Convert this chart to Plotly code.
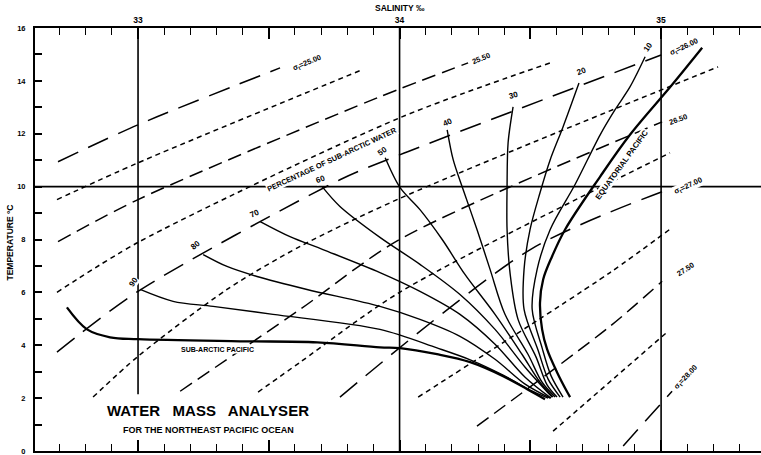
import plotly.graph_objects as go

FONT = "Liberation Sans"

# ---------------- axes ----------------
SAL_RANGE = [32.606, 35.382]
TEMP_RANGE = [0, 16]
sal_tickvals = [33.0, 33.5, 34.0, 34.5, 35.0]
sal_ticktext = ["33", "", "34", "", "35"]
temp_tickvals = [0, 2, 4, 6, 8, 10, 12, 14, 16]
temp_ticktext = ["0", "2", "4", "6", "8", "10", "12", "14", "16"]

# reference grid lines (salinity verticals and 10 degC horizontal)
grid_sal = [33.0, 34.0, 35.0]
grid_sal_tmin = [2.15, 0.0, 0.0]
grid_sal_tmax = [16.0, 16.0, 16.0]
grid_temp = 10.0

# ---------------- sigma-t isopycnals ----------------
sigma_levels = ["25.00", "25.25", "25.50", "25.75", "26.00", "26.25", "26.50",
                "26.75", "27.00", "27.25", "27.50", "27.75", "28.00"]
sigma_S = [
    [32.694, 33.000, 33.543],
    [32.690, 33.000, 33.857],
    [32.694, 33.000, 33.925, 34.262],
    [32.690, 33.000, 34.000, 34.576],
    [32.690, 33.000, 33.772, 34.000, 35.000],
    [32.828, 33.000, 33.340, 33.620, 34.000, 35.218],
    [33.161, 33.620, 34.000, 35.004],
    [33.459, 33.620, 34.000, 35.034],
    [33.772, 34.500, 35.004],
    [34.071, 34.805, 35.042],
    [34.296, 34.805, 35.004],
    [34.587, 35.027],
    [34.855, 35.042],
]
sigma_T = [
    [10.94, 12.34, 14.49],
    [9.51, 10.90, 14.42],
    [7.92, 9.51, 13.40, 14.68],
    [6.00, 7.89, 12.60, 14.68],
    [3.74, 6.04, 10.26, 11.20, 14.98],
    [2.04, 3.58, 6.11, 7.74, 9.55, 14.53],
    [2.26, 5.36, 8.00, 12.45],
    [2.23, 3.36, 6.00, 11.28],
    [2.04, 7.62, 9.81],
    [2.04, 6.75, 8.45],
    [0.94, 4.72, 6.42],
    [0.75, 4.53],
    [0.19, 2.26],
]
# labelled isopycnals: text, S, T, angle
sigma_label_text = ["σ<sub>t</sub>=25.00", "25.50", "σ<sub>t</sub>=26.00", "26.50",
                    "σ<sub>t</sub>=27.00", "27.50", "σ<sub>t</sub>=28.00"]
sigma_label_S = [33.646, 34.312, 35.088, 35.065, 35.103, 35.092, 35.096]
sigma_label_T = [14.68, 14.83, 15.28, 12.53, 10.04, 6.87, 2.79]
sigma_label_angle = [-22, -22, -25, -20, -25, -33, -47]

# ---------------- source water types ----------------
subarctic_S = [32.728, 32.805, 32.893, 33.000, 33.390, 33.685, 33.925, 34.002,
               34.143, 34.270, 34.396, 34.488, 34.556]
subarctic_T = [5.43, 4.60, 4.30, 4.23, 4.15, 4.11, 3.92, 3.89,
               3.66, 3.36, 2.83, 2.34, 1.96]
equatorial_S = [35.157, 35.042, 34.881, 34.767, 34.633, 34.583, 34.549, 34.537,
                34.545, 34.564, 34.602, 34.641, 34.652]
equatorial_T = [15.25, 13.85, 11.96, 10.38, 8.38, 7.36, 6.49, 5.62,
                4.60, 3.85, 2.98, 2.23, 2.04]

# ---------------- percentage of sub-arctic water curves ----------------
pct_labels = ["90", "80", "70", "60", "50", "40", "30", "20", "10"]
pct_S = [
    [33.008, 33.134, 33.287, 33.516, 33.925, 34.143, 34.270, 34.396, 34.499, 34.568],
    [33.249, 33.340, 33.455, 33.646, 33.925, 34.078, 34.231, 34.365, 34.480, 34.576],
    [33.467, 33.581, 33.707, 33.925, 34.078, 34.231, 34.365, 34.480, 34.579],
    [33.704, 33.772, 33.925, 34.078, 34.231, 34.365, 34.480, 34.583],
    [33.945, 34.002, 34.078, 34.163, 34.250, 34.365, 34.468, 34.537, 34.587],
    [34.182, 34.205, 34.243, 34.296, 34.346, 34.403, 34.491, 34.545, 34.595],
    [34.434, 34.415, 34.411, 34.411, 34.423, 34.453, 34.522, 34.564, 34.602],
    [34.686, 34.625, 34.576, 34.537, 34.499, 34.476, 34.476, 34.530, 34.568, 34.614],
    [34.939, 34.881, 34.824, 34.767, 34.671, 34.576, 34.526, 34.507, 34.545, 34.579, 34.625],
]
pct_T = [
    [6.11, 5.66, 5.47, 5.17, 4.60, 3.90, 3.45, 2.87, 2.30, 2.00],
    [7.43, 6.98, 6.60, 6.11, 5.47, 4.98, 4.34, 3.47, 2.53, 2.00],
    [8.68, 8.11, 7.62, 6.75, 6.04, 5.17, 4.04, 2.79, 2.00],
    [10.00, 9.25, 8.08, 7.06, 5.92, 4.60, 3.17, 2.04],
    [11.09, 9.96, 9.13, 8.00, 6.68, 5.17, 3.66, 2.60, 2.04],
    [12.15, 11.02, 9.89, 8.38, 6.87, 5.17, 3.66, 2.60, 2.04],
    [13.02, 11.66, 10.00, 8.38, 6.68, 4.98, 3.55, 2.50, 2.04],
    [13.92, 12.26, 11.02, 9.77, 8.38, 6.87, 5.36, 3.80, 2.72, 2.04],
    [14.91, 13.77, 12.91, 11.96, 10.08, 8.38, 6.87, 5.36, 3.90, 2.85, 2.04],
]
pct_label_S = [32.981, 33.218, 33.447, 33.696, 33.933, 34.182, 34.434, 34.694, 34.950]
pct_label_T = [6.38, 7.77, 8.98, 10.26, 11.32, 12.42, 13.43, 14.34, 15.25]
pct_label_angle = [-55, -40, -25, -20, -35, -25, -15, -20, -55]

# ---------------- text ----------------
title_x = "SALINITY ‰"
title_y = "TEMPERATURE °C"
main_title = "WATER\u00a0\u00a0 MASS\u00a0\u00a0 ANALYSER"
sub_title = "FOR THE NORTHEAST PACIFIC OCEAN"

LONG = "22px,11px"
MED = "14px,7px"
SHORT = "5px,4px"

fig = go.Figure()

# grid lines
for s, t0, t1 in zip(grid_sal, grid_sal_tmin, grid_sal_tmax):
    fig.add_trace(go.Scatter(x=[s, s], y=[t0, t1], mode="lines",
                             line=dict(color="black", width=1.6), hoverinfo="skip"))
fig.add_trace(go.Scatter(x=SAL_RANGE, y=[grid_temp, grid_temp], mode="lines",
                         line=dict(color="black", width=1.6), hoverinfo="skip"))

# isopycnals
for lev, S, T in zip(sigma_levels, sigma_S, sigma_T):
    frac = lev.split(".")[1]
    dash = LONG if frac == "00" else (MED if frac == "50" else SHORT)
    fig.add_trace(go.Scatter(x=S, y=T, mode="lines",
                             line=dict(color="black", width=1.5, dash=dash, shape="spline",
                                       smoothing=0.8),
                             hoverinfo="skip"))

# mixing curves
for S, T in zip(pct_S, pct_T):
    fig.add_trace(go.Scatter(x=S, y=T, mode="lines",
                             line=dict(color="black", width=1.4, shape="spline", smoothing=0.9),
                             hoverinfo="skip"))

# source curves
for S, T in [(subarctic_S, subarctic_T), (equatorial_S, equatorial_T)]:
    fig.add_trace(go.Scatter(x=S, y=T, mode="lines",
                             line=dict(color="black", width=2.3, shape="spline", smoothing=1.0),
                             hoverinfo="skip"))

ann = []


def label(text, x, y, size, angle=0, bg="white", xref="x", yref="y"):
    ann.append(dict(text=text, x=x, y=y, xref=xref, yref=yref, showarrow=False,
                    xanchor="center", yanchor="middle",
                    textangle=angle, bgcolor=bg, borderpad=0,
                    font=dict(family=FONT, size=size, color="black")))


for t, s, y, a in zip(sigma_label_text, sigma_label_S, sigma_label_T, sigma_label_angle):
    label("<b>" + t + "</b>", s, y, 7.5, a)
for t, s, y, a in zip(pct_labels, pct_label_S, pct_label_T, pct_label_angle):
    label("<b>" + t + "</b>", s, y, 8, a)

label("<b>PERCENTAGE OF SUB-ARCTIC WATER</b>", 33.742, 11.02, 7.5, -25)
label("<b>SUB-ARCTIC PACIFIC</b>", 33.302, 3.85, 7, 0)
label("<b>EQUATORIAL PACIFIC</b>", 34.851, 10.83, 7.8, -54)
label("<b>" + main_title + "</b>", 33.268, 1.55, 15, 0, bg="rgba(0,0,0,0)")
label("<b>" + sub_title + "</b>", 33.268, 0.79, 9, 0, bg="rgba(0,0,0,0)")
label("<b>" + title_x + "</b>", 34.0, 1.047, 8.5, 0, bg="rgba(0,0,0,0)", yref="paper")
label("<b>" + title_y + "</b>", -0.0344, 0.493, 8.5, -90, bg="rgba(0,0,0,0)", xref="paper", yref="paper")

fig.update_layout(
    width=761, height=455,
    margin=dict(l=35, r=0, t=28, b=4, autoexpand=False),
    paper_bgcolor="white", plot_bgcolor="white",
    showlegend=False,
    annotations=ann,
    font=dict(family=FONT, color="black"),
    xaxis=dict(range=SAL_RANGE, side="top", showgrid=False, zeroline=False, automargin=False,
               showline=True, linecolor="black", linewidth=2, mirror="ticks",
               ticks="inside", ticklen=11, tickwidth=1.5, tickcolor="black",
               tickvals=sal_tickvals, ticktext=["<b>" + t + "</b>" for t in sal_ticktext],
               tickfont=dict(family=FONT, size=8.5, color="black"),
               ticklabeloverflow="allow",
               minor=dict(tick0=32.6, dtick=0.1, ticks="inside", ticklen=7,
                          tickwidth=1.3, tickcolor="black", showgrid=False)),
    yaxis=dict(range=TEMP_RANGE, showgrid=False, zeroline=False, automargin=False,
               showline=True, linecolor="black", linewidth=2,
               ticks="inside", ticklen=7, tickwidth=1.5, tickcolor="black",
               tickvals=temp_tickvals, ticktext=["<b>" + t + "</b>" for t in temp_ticktext],
               ticklabelstandoff=6, ticklabeloverflow="allow",
               tickfont=dict(family=FONT, size=7.5, color="black"),
               minor=dict(dtick=1, ticks="inside", ticklen=7, tickwidth=1.5,
                          tickcolor="black", showgrid=False)),
    yaxis2=dict(range=TEMP_RANGE, overlaying="y", side="right", showgrid=False, automargin=False,
                zeroline=False, showline=False, ticks="inside", ticklen=4,
                tickwidth=1.3, tickcolor="black", dtick=1, showticklabels=False),
)

# remove the browser's default 8px page margin so the figure fills the window exactly
fig.write_html("out.html", config={"displayModeBar": False},
               post_script="document.body.style.margin='0';")
